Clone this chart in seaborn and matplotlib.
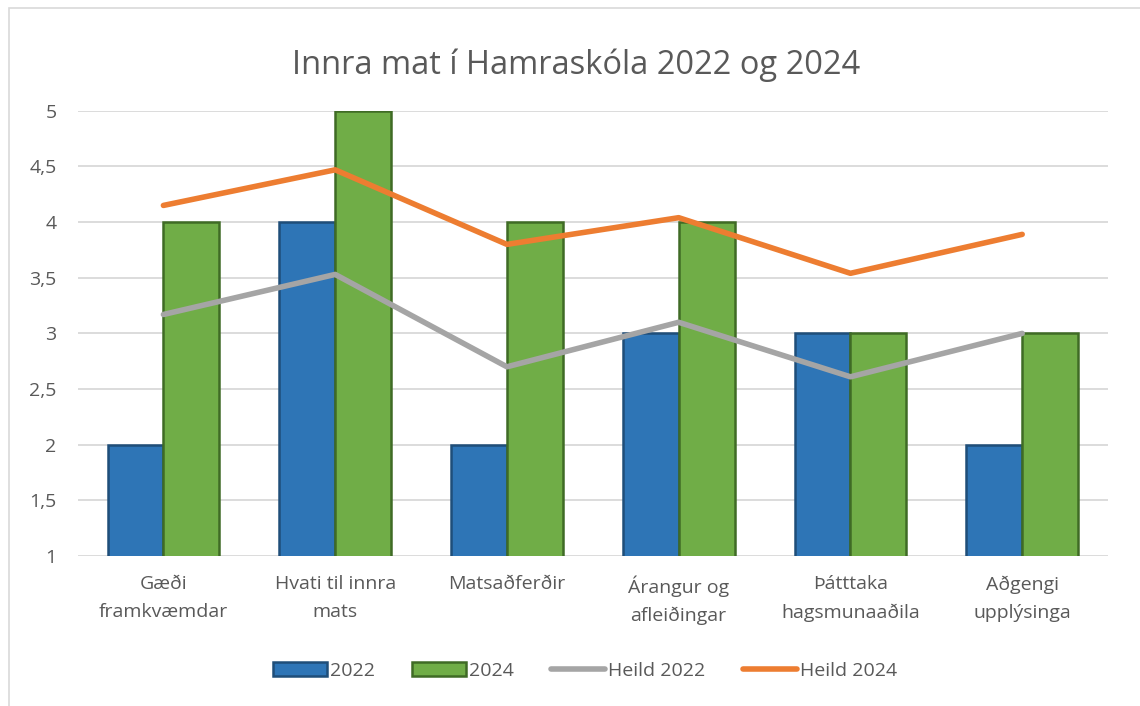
import pandas as pd
import numpy as np
import matplotlib
matplotlib.use("Agg")
import matplotlib.pyplot as plt
import seaborn as sns
from matplotlib.patches import Rectangle

categories = ["Gæði\nframkvæmdar", "Hvati til innra\nmats", "Matsaðferðir",
              "Árangur og\nafleiðingar", "Þátttaka\nhagsmunaaðila", "Aðgengi\nupplýsinga"]
score_2022 = [2, 4, 2, 3, 3, 2]
score_2024 = [4, 5, 4, 4, 3, 3]
heild_2022 = [3.17, 3.53, 2.70, 3.10, 2.61, 3.00]
heild_2024 = [4.15, 4.47, 3.80, 4.04, 3.54, 3.89]
yticks = [1, 1.5, 2, 2.5, 3, 3.5, 4, 4.5, 5]

blue = "#2E75B6"
green = "#70AD47"
orange = "#ED7D31"
grey = "#A5A5A5"
text_col = "#595959"

sns.set_theme(style="white")
plt.rcParams['font.family'] = ['Open Sans', 'DejaVu Sans']

bars = pd.DataFrame({
    "cat": categories * 2,
    "value": score_2022 + score_2024,
    "year": ["2022"] * 6 + ["2024"] * 6,
})

fig = plt.figure(figsize=(11.4, 7.06), dpi=100)
ax = fig.add_axes([0.068, 0.2125, 0.904, 0.6305])

sns.barplot(data=bars, x="cat", y="value", hue="year", order=categories,
            palette={"2022": blue, "2024": green}, width=0.65, gap=0,
            saturation=1, ax=ax, legend=True, zorder=3)

# bevel look: darker outline on each bar
edge = {blue.lower(): "#1F4E79", green.lower(): "#3F6B25"}
for patch in ax.patches:
    fc = matplotlib.colors.to_hex(patch.get_facecolor())
    patch.set_edgecolor(edge.get(fc, "#333333"))
    patch.set_linewidth(1.8)

line_df = pd.DataFrame({"cat": categories, "h22": heild_2022, "h24": heild_2024})
sns.pointplot(data=line_df, x="cat", y="h22", order=categories, color=grey,
              marker="", linewidth=4, label="Heild 2022", ax=ax, zorder=4)
sns.pointplot(data=line_df, x="cat", y="h24", order=categories, color=orange,
              marker="", linewidth=4, label="Heild 2024", ax=ax, zorder=4)
for ln in ax.lines:
    ln.set_solid_capstyle("round")

ax.set_ylim(1, 5)
ax.set_xlim(-0.5, 5.5)
ax.set_yticks(yticks)
ax.set_yticklabels([f"{t:g}".replace(".", ",") for t in yticks])
ax.yaxis.grid(True, color="#D9D9D9", linewidth=1.3, zorder=0)
ax.set_axisbelow(True)
for s in ax.spines.values():
    s.set_visible(False)
ax.tick_params(axis="both", length=0, labelsize=14, colors=text_col)
ax.tick_params(axis="x", pad=14)
ax.tick_params(axis="y", pad=15)
for lbl in ax.get_xticklabels():
    lbl.set_linespacing(1.7)
ax.set_xlabel("")
ax.set_ylabel("")

fig.suptitle("Innra mat í Hamraskóla 2022 og 2024", x=0.505, y=0.932,
             fontsize=23.5, color=text_col)

handles, labels = ax.get_legend_handles_labels()
if ax.legend_:
    ax.legend_.remove()
fig.legend(handles, labels, loc="center", bbox_to_anchor=(0.513, 0.05), ncol=4,
           frameon=False, fontsize=14, labelcolor=text_col, handlelength=2.8,
           handleheight=0.7, handletextpad=0.15, columnspacing=1.9)

fig.patches.append(Rectangle((0.008, -0.02), 1.1, 1.008, transform=fig.transFigure,
                             fill=False, edgecolor="#D9D9D9", linewidth=1.2))

fig.savefig("out.png", dpi=100)
